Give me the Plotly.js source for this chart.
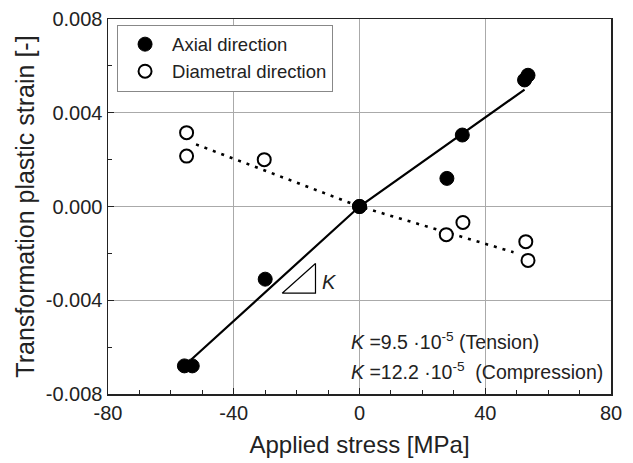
<!DOCTYPE html>
<html>
<head>
<meta charset="utf-8">
<script src="https://cdn.plot.ly/plotly-3.0.1.min.js"></script>
<style>html,body{margin:0;padding:0;background:#fff;}#chart{width:633px;height:463px;}</style>
</head>
<body>
<div id="chart"></div>
<script>
// Measured data (stress in MPa, strain in -)
const axialStress = [-55.7, -53.2, -30.0, 0, 27.8, 32.7, 52.5, 53.6];
const axialStrain = [-0.0068, -0.0068, -0.0031, 0, 0.0012, 0.00305, 0.0054, 0.0056];
const diamStress = [-55.0, -55.0, -30.3, 0, 27.6, 32.9, 52.9, 53.6];
const diamStrain = [0.00315, 0.00215, 0.0020, 0, -0.0012, -0.00068, -0.0015, -0.0023];
// Fitted lines
const axialFitStress = [-53.5, 0, 52.5];
const axialFitStrain = [-0.00653, 0, 0.00499];
const diamFitStress = [-52, 0, 49];
const diamFitStrain = [0.00265, 0, -0.00195];
// Slope triangle (annotation)
const triX = [-24.6, -14.0, -14.0, -24.6];
const triY = [-0.0037, -0.00243, -0.0037, -0.0037];
// Tick labels
const xTickVals = [-80, -40, 0, 40, 80];
const xTickText = ['-80', '-40', '0', '40', '80'];
const yTickVals = [-0.008, -0.004, 0, 0.004, 0.008];
const yTickText = ['-0.008', '-0.004', '0.000', '0.004', '0.008'];

const font = "Liberation Sans, Arial, sans-serif";

const traces = [
  {x: axialFitStress, y: axialFitStrain, mode: 'lines', line: {color: '#000', width: 2.2}, showlegend: false, hoverinfo: 'skip'},
  {x: diamFitStress, y: diamFitStrain, mode: 'lines', line: {color: '#000', width: 2.6, dash: '3px,6px'}, showlegend: false, hoverinfo: 'skip'},
  {x: triX, y: triY, mode: 'lines', line: {color: '#000', width: 1.2}, showlegend: false, hoverinfo: 'skip'},
  {x: diamStress, y: diamStrain, mode: 'markers', name: 'Diametral direction',
   marker: {symbol: 'circle', size: 13, color: '#fff', line: {color: '#000', width: 2}}},
  {x: axialStress, y: axialStrain, mode: 'markers', name: 'Axial direction',
   marker: {symbol: 'circle', size: 14, color: '#000', line: {color: '#000', width: 1}}}
];

const layout = {
  width: 633, height: 463,
  margin: {l: 108, r: 22, t: 19, b: 69},
  paper_bgcolor: '#fff', plot_bgcolor: '#fff',
  font: {family: font, color: '#222', size: 19},
  showlegend: true,
  legend: {x: 0.018, y: 0.985, xanchor: 'left', yanchor: 'top', traceorder: 'reversed',
           itemwidth: 44, tracegroupgap: 0,
           bordercolor: '#888', borderwidth: 1, bgcolor: '#fff', font: {size: 18.5, family: font}},
  xaxis: {
    range: [-80, 80], tickmode: 'array', tickvals: xTickVals, ticktext: xTickText, zeroline: false,
    showgrid: true, gridcolor: '#aaa', gridwidth: 1,
    showline: true, linecolor: '#222', linewidth: 1.5, mirror: true,
    ticks: 'inside', ticklen: 6, tickcolor: '#222',
    minor: {dtick: 10, tick0: 0, ticks: 'inside', ticklen: 4, tickcolor: '#222', showgrid: false},
    tickfont: {size: 20, family: font},
    title: {text: 'Applied stress [MPa]', font: {size: 24, family: font}, standoff: 13}
  },
  yaxis: {
    range: [-0.008, 0.008], tickmode: 'array', tickvals: yTickVals, ticktext: yTickText, zeroline: false,
    showgrid: true, gridcolor: '#aaa', gridwidth: 1,
    showline: true, linecolor: '#222', linewidth: 1.5, mirror: true,
    ticks: 'inside', ticklen: 6, tickcolor: '#222',
    minor: {dtick: 0.002, tick0: 0, ticks: 'inside', ticklen: 4, tickcolor: '#222', showgrid: false},
    tickfont: {size: 20, family: font},
    title: {text: 'Transformation plastic strain [-]', font: {size: 25, family: font}, standoff: 4}
  },
  annotations: [
    {x: -12.5, y: -0.0032, xref: 'x', yref: 'y', text: '<i>K</i>', showarrow: false, xanchor: 'left', font: {size: 20}},
    {x: -3.5, y: -0.00572, xref: 'x', yref: 'y', text: '<i>K</i> =9.5 ·10<sup>-5</sup> (Tension)', showarrow: false, xanchor: 'left', font: {size: 19.5}},
    {x: -3.5, y: -0.00702, xref: 'x', yref: 'y', text: '<i>K</i> =12.2 ·10<sup>-5</sup>  (Compression)', showarrow: false, xanchor: 'left', font: {size: 19.5}}
  ]
};

Plotly.newPlot('chart', traces, layout, {displayModeBar: false, staticPlot: true});
</script>
</body>
</html>
